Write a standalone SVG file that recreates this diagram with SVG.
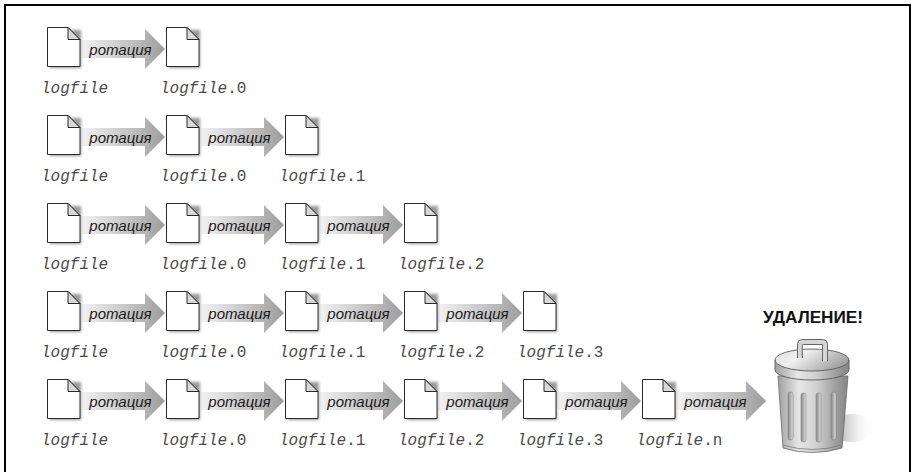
<svg xmlns="http://www.w3.org/2000/svg" width="914" height="472" viewBox="0 0 914 472">
  <defs>
    <style>
      .frame { fill: none; stroke: #000; stroke-width: 2; }
      .doc { fill: #fff; stroke: #2a2a2a; stroke-width: 1; stroke-linejoin: miter; }
      .fold { fill: #d8d8d8; stroke: #2a2a2a; stroke-width: 1; stroke-linejoin: miter; }
      .shadow { fill: #999; filter: url(#soft); }
      .arrow { fill: url(#arrowGrad); }
      .rot { font-family: "Liberation Sans", Arial, sans-serif; font-style: italic; font-size: 15px; fill: #1a1a1a; text-anchor: middle; }
      .name { font-family: "Liberation Mono", "Courier New", monospace; font-size: 16px; fill: #4a4a4a; }
      .it { font-style: italic; }
      .del { font-family: "Liberation Sans", Arial, sans-serif; font-weight: bold; font-size: 16px; fill: #111; }
    </style>
    <filter id="soft" x="-30%" y="-30%" width="160%" height="160%">
      <feGaussianBlur stdDeviation="1.4"/>
    </filter>
    <linearGradient id="arrowGrad" x1="0" y1="0" x2="1" y2="0">
      <stop offset="0" stop-color="#f2f2f2"/>
      <stop offset="0.75" stop-color="#b4b4b4"/>
      <stop offset="1" stop-color="#9c9c9c"/>
    </linearGradient>
    <linearGradient id="metal" x1="0" y1="0" x2="1" y2="0">
      <stop offset="0" stop-color="#a0a0a0"/>
      <stop offset="0.3" stop-color="#e6e6e6"/>
      <stop offset="0.55" stop-color="#d0d0d0"/>
      <stop offset="0.85" stop-color="#9a9a9a"/>
      <stop offset="1" stop-color="#858585"/>
    </linearGradient>
    <linearGradient id="lidTop" x1="0" y1="0" x2="1" y2="0.4">
      <stop offset="0" stop-color="#dcdcdc"/>
      <stop offset="0.4" stop-color="#f0f0f0"/>
      <stop offset="1" stop-color="#a4a4a4"/>
    </linearGradient>
    <linearGradient id="rib" x1="0" y1="0" x2="1" y2="0">
      <stop offset="0" stop-color="#8c8c8c"/>
      <stop offset="0.5" stop-color="#b0b0b0"/>
      <stop offset="1" stop-color="#e2e2e2"/>
    </linearGradient>
    <linearGradient id="floorShade" x1="0" y1="0" x2="1" y2="0">
      <stop offset="0" stop-color="#8e8e8e"/>
      <stop offset="1" stop-color="#ffffff" stop-opacity="0"/>
    </linearGradient>

    <!-- one document icon: page with folded corner and soft drop shadow -->
    <g id="page">
      <path class="shadow" d="M3,3 H34 V41 H3 Z"/>
      <path class="doc" d="M0.5,0.5 H21 L33,12.5 V39.5 H0.5 Z"/>
      <path class="fold" d="M21,0.5 V12.5 H33 Z"/>
    </g>
    <!-- standard rotation arrow, placed relative to the source page -->
    <path id="arr" class="arrow" d="M35,13 H98 V2 L118,22 L98,42 V31 H35 Z"/>
    <path id="arrLong" class="arrow" d="M35,13 H104 V2 L124,22 L104,42 V31 H35 Z"/>
  </defs>

  <rect width="914" height="472" fill="#fff"/>
  <!-- open frame: top, left and right sides -->
  <path class="frame" d="M5,472 V5 H910 V472"/>

  <g id="connectors">
    <!-- row 1 -->
    <g transform="translate(47,27)"><use href="#arr"/><text class="rot" x="73.5" y="28">ротация</text></g>
    <!-- row 2 -->
    <g transform="translate(47,115)"><use href="#arr"/><text class="rot" x="73.5" y="28">ротация</text></g>
    <g transform="translate(166,115)"><use href="#arr"/><text class="rot" x="73.5" y="28">ротация</text></g>
    <!-- row 3 -->
    <g transform="translate(47,203)"><use href="#arr"/><text class="rot" x="73.5" y="28">ротация</text></g>
    <g transform="translate(166,203)"><use href="#arr"/><text class="rot" x="73.5" y="28">ротация</text></g>
    <g transform="translate(285,203)"><use href="#arr"/><text class="rot" x="73.5" y="28">ротация</text></g>
    <!-- row 4 -->
    <g transform="translate(47,291)"><use href="#arr"/><text class="rot" x="73.5" y="28">ротация</text></g>
    <g transform="translate(166,291)"><use href="#arr"/><text class="rot" x="73.5" y="28">ротация</text></g>
    <g transform="translate(285,291)"><use href="#arr"/><text class="rot" x="73.5" y="28">ротация</text></g>
    <g transform="translate(404,291)"><use href="#arr"/><text class="rot" x="73.5" y="28">ротация</text></g>
    <!-- row 5 -->
    <g transform="translate(47,379)"><use href="#arr"/><text class="rot" x="73.5" y="28">ротация</text></g>
    <g transform="translate(166,379)"><use href="#arr"/><text class="rot" x="73.5" y="28">ротация</text></g>
    <g transform="translate(285,379)"><use href="#arr"/><text class="rot" x="73.5" y="28">ротация</text></g>
    <g transform="translate(404,379)"><use href="#arr"/><text class="rot" x="73.5" y="28">ротация</text></g>
    <g transform="translate(523,379)"><use href="#arr"/><text class="rot" x="73.5" y="28">ротация</text></g>
    <g transform="translate(642,379)"><use href="#arrLong"/><text class="rot" x="73.5" y="28">ротация</text></g>
  </g>

  <!-- row 1 -->
  <g id="r1-logfile" transform="translate(47,27)"><use href="#page"/><text class="name" x="-6" y="66"><tspan class="it">logfile</tspan></text></g>
  <g id="r1-logfile0" transform="translate(166,27)"><use href="#page"/><text class="name" x="-6" y="66"><tspan class="it">logfile</tspan>.0</text></g>

  <!-- row 2 -->
  <g id="r2-logfile" transform="translate(47,115)"><use href="#page"/><text class="name" x="-6" y="66"><tspan class="it">logfile</tspan></text></g>
  <g id="r2-logfile0" transform="translate(166,115)"><use href="#page"/><text class="name" x="-6" y="66"><tspan class="it">logfile</tspan>.0</text></g>
  <g id="r2-logfile1" transform="translate(285,115)"><use href="#page"/><text class="name" x="-6" y="66"><tspan class="it">logfile</tspan>.1</text></g>

  <!-- row 3 -->
  <g id="r3-logfile" transform="translate(47,203)"><use href="#page"/><text class="name" x="-6" y="66"><tspan class="it">logfile</tspan></text></g>
  <g id="r3-logfile0" transform="translate(166,203)"><use href="#page"/><text class="name" x="-6" y="66"><tspan class="it">logfile</tspan>.0</text></g>
  <g id="r3-logfile1" transform="translate(285,203)"><use href="#page"/><text class="name" x="-6" y="66"><tspan class="it">logfile</tspan>.1</text></g>
  <g id="r3-logfile2" transform="translate(404,203)"><use href="#page"/><text class="name" x="-6" y="66"><tspan class="it">logfile</tspan>.2</text></g>

  <!-- row 4 -->
  <g id="r4-logfile" transform="translate(47,291)"><use href="#page"/><text class="name" x="-6" y="66"><tspan class="it">logfile</tspan></text></g>
  <g id="r4-logfile0" transform="translate(166,291)"><use href="#page"/><text class="name" x="-6" y="66"><tspan class="it">logfile</tspan>.0</text></g>
  <g id="r4-logfile1" transform="translate(285,291)"><use href="#page"/><text class="name" x="-6" y="66"><tspan class="it">logfile</tspan>.1</text></g>
  <g id="r4-logfile2" transform="translate(404,291)"><use href="#page"/><text class="name" x="-6" y="66"><tspan class="it">logfile</tspan>.2</text></g>
  <g id="r4-logfile3" transform="translate(523,291)"><use href="#page"/><text class="name" x="-6" y="66"><tspan class="it">logfile</tspan>.3</text></g>

  <!-- row 5 -->
  <g id="r5-logfile" transform="translate(47,379)"><use href="#page"/><text class="name" x="-6" y="66"><tspan class="it">logfile</tspan></text></g>
  <g id="r5-logfile0" transform="translate(166,379)"><use href="#page"/><text class="name" x="-6" y="66"><tspan class="it">logfile</tspan>.0</text></g>
  <g id="r5-logfile1" transform="translate(285,379)"><use href="#page"/><text class="name" x="-6" y="66"><tspan class="it">logfile</tspan>.1</text></g>
  <g id="r5-logfile2" transform="translate(404,379)"><use href="#page"/><text class="name" x="-6" y="66"><tspan class="it">logfile</tspan>.2</text></g>
  <g id="r5-logfile3" transform="translate(523,379)"><use href="#page"/><text class="name" x="-6" y="66"><tspan class="it">logfile</tspan>.3</text></g>
  <g id="r5-logfilen" transform="translate(642,379)"><use href="#page"/><text class="name" x="-6" y="66"><tspan class="it">logfile</tspan>.n</text></g>

  <!-- trash can -->
  <g id="trash">
    <text class="del" x="763" y="323" textLength="100" lengthAdjust="spacingAndGlyphs">УДАЛЕНИЕ!</text>
    <!-- floor shadow -->
    <ellipse cx="852" cy="428" rx="22" ry="14" fill="url(#floorShade)"/>
    <!-- body -->
    <path d="M778,376 L783,448 Q812,457 842,448 L848,376 Z" fill="url(#metal)" stroke="#6a6a6a" stroke-width="0.8"/>
    <path d="M783,445 Q812,454 842,445" fill="none" stroke="#7a7a7a" stroke-width="0.8"/>
    <!-- ribs -->
    <g fill="url(#rib)" stroke="#777" stroke-width="0.5">
      <rect x="788" y="392" width="5" height="48" rx="2.5"/>
      <rect x="801" y="393" width="5" height="49" rx="2.5"/>
      <rect x="816" y="393" width="5" height="49" rx="2.5"/>
      <rect x="831" y="392" width="5" height="48" rx="2.5"/>
    </g>
    <!-- lid rim -->
    <path d="M775,360 V370 A37,10 0 0 0 849,370 V360 Z" fill="url(#metal)" stroke="#5a5a5a" stroke-width="0.9"/>
    <!-- lid top -->
    <ellipse cx="812" cy="360" rx="37" ry="11" fill="url(#lidTop)" stroke="#5a5a5a" stroke-width="0.9"/>
    <!-- handle -->
    <path d="M800,358 V345 Q800,342 803,342 H822 Q825,342 825,345 V361" fill="none" stroke="#666" stroke-width="6" stroke-linejoin="round"/>
    <path d="M800,358 V345 Q800,342 803,342 H822 Q825,342 825,345 V361" fill="none" stroke="#d6d6d6" stroke-width="4" stroke-linejoin="round"/>
    <path d="M802,356 V346 Q802,344.5 804,344.5" fill="none" stroke="#9a9a9a" stroke-width="1"/>
  </g>
</svg>
